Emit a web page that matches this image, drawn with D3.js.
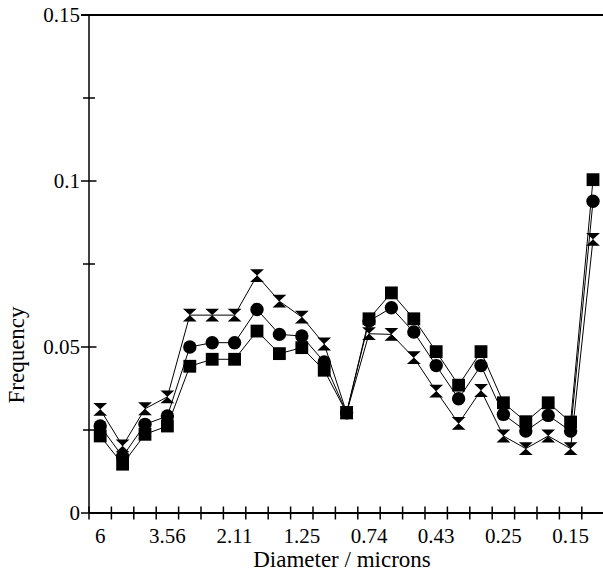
<!DOCTYPE html>
<html>
<head>
<meta charset="utf-8">
<script src="https://cdn.jsdelivr.net/npm/d3@7"></script>
<style>
  body { margin: 0; background: #fff; }
</style>
</head>
<body>
<div id="main"></div>
<script>
const cte = {
    w: 603,
    h: 575,
    markerSize: 6.4,
    font: "'Liberation Serif', 'Times New Roman', serif"
};

// one label per diameter bin (microns), blank = unlabelled bin
const binLabels = ["6", "", "", "3.56", "", "", "2.11", "", "", "1.25", "", "",
                   "0.74", "", "", "0.43", "", "", "0.25", "", "", "0.15", ""];

// frequencies per diameter bin
const squareSeries = [0.0232, 0.0147, 0.0237, 0.0262, 0.0442, 0.0463, 0.0463, 0.0548, 0.0480, 0.0498, 0.0430, 0.0302,
                      0.0585, 0.0663, 0.0585, 0.0486, 0.0385, 0.0486, 0.0332, 0.0275, 0.0332, 0.0274, 0.1004];
const circleSeries = [0.0262, 0.0170, 0.0267, 0.0292, 0.0500, 0.0513, 0.0513, 0.0613, 0.0538, 0.0533, 0.0455, 0.0302,
                      0.0578, 0.0618, 0.0545, 0.0444, 0.0344, 0.0444, 0.0297, 0.0247, 0.0294, 0.0247, 0.0939];
const hourglassSeries = [0.0312, 0.0202, 0.0314, 0.0350, 0.0596, 0.0596, 0.0596, 0.0715, 0.0638, 0.0590, 0.0509, 0.0302,
                         0.0540, 0.0538, 0.0468, 0.0367, 0.0270, 0.0369, 0.0232, 0.0194, 0.0232, 0.0194, 0.0824];

const yMajorTicks = [0, 0.05, 0.1, 0.15];
const yMinorTicks = [0.025, 0.075, 0.125];
const yTickLabels = ["0", "0.05", "0.1", "0.15"];

const margin = { top: 15, right: 0, bottom: 62, left: 89 };

let svg = d3.select("#main").append("svg")
    .attr("width", cte.w)
    .attr("height", cte.h)
    .style("font-family", cte.font);

let xScale = d3.scaleBand()
    .domain(binLabels.map((d, i) => i))
    .range([margin.left, margin.left + binLabels.length * 22.4])
    .padding(0);

let yScale = d3.scaleLinear()
    .domain([0, 0.15])
    .range([cte.h - margin.bottom, margin.top]);

const x0 = margin.left, y0 = yScale(0);
const cx = i => xScale(i) + xScale.bandwidth() / 2;

// x axis: ticks at bin edges, labels in the middle of the bin
let xAxis = svg.append("g").attr("class", "x-axis");
xAxis.append("line")
    .attr("x1", x0).attr("x2", cte.w)
    .attr("y1", y0).attr("y2", y0)
    .attr("stroke", "#000").attr("stroke-width", 2);
xAxis.selectAll(".xtick")
    .data(xScale.domain())
    .enter().append("line")
    .attr("class", "xtick")
    .attr("x1", d => xScale(d)).attr("x2", d => xScale(d))
    .attr("y1", y0 - 6.5).attr("y2", y0 + 6.5)
    .attr("stroke", "#000").attr("stroke-width", 1.5);
xAxis.selectAll(".xlabel")
    .data(binLabels.map((t, i) => ({ t, i })).filter(d => d.t !== ""))
    .enter().append("text")
    .attr("class", "xlabel")
    .attr("x", d => cx(d.i))
    .attr("y", 543)
    .attr("text-anchor", "middle")
    .style("font-family", cte.font)
    .style("font-size", "21px")
    .text(d => d.t);

svg.append("text")
    .attr("x", 342)
    .attr("y", 567)
    .attr("text-anchor", "middle")
    .style("font-family", cte.font)
    .style("font-size", "23px")
    .text("Diameter / microns");

// y axis
let yAxis = svg.append("g").attr("class", "y-axis");
yAxis.append("line")
    .attr("x1", x0).attr("x2", x0)
    .attr("y1", yScale(0.15)).attr("y2", y0)
    .attr("stroke", "#000").attr("stroke-width", 1.5);
yAxis.selectAll(".ymajor")
    .data(yMajorTicks)
    .enter().append("line")
    .attr("x1", x0 - 8).attr("x2", d => d === 0.15 ? cte.w : x0 + 7.5)
    .attr("y1", d => yScale(d)).attr("y2", d => yScale(d))
    .attr("stroke", "#000").attr("stroke-width", d => d === 0.15 ? 2 : 1.5);
yAxis.selectAll(".yminor")
    .data(yMinorTicks)
    .enter().append("line")
    .attr("x1", x0 - 6).attr("x2", x0 + 6)
    .attr("y1", d => yScale(d)).attr("y2", d => yScale(d))
    .attr("stroke", "#000").attr("stroke-width", 1.5);
yAxis.selectAll(".ylabel")
    .data(yMajorTicks)
    .enter().append("text")
    .attr("x", 80)
    .attr("y", d => yScale(d))
    .attr("dy", "0.35em")
    .attr("text-anchor", "end")
    .style("font-family", cte.font)
    .style("font-size", "21px")
    .text((d, i) => yTickLabels[i]);

svg.append("text")
    .attr("transform", "translate(24, 355) rotate(-90)")
    .attr("text-anchor", "middle")
    .style("font-family", cte.font)
    .style("font-size", "23px")
    .text("Frequency");

// series: thin black lines, then markers (square drawn last, on top)
const lineGenerator = d3.line()
    .x((d, i) => cx(i))
    .y(d => yScale(d));

const s = cte.markerSize;
const hourglassPath = `M${-s - 0.5},${-s} L${s + 0.5},${-s} L${-s - 0.5},${s} L${s + 0.5},${s} Z`;

const series = [
    { name: "hourglass", values: hourglassSeries },
    { name: "circle", values: circleSeries },
    { name: "square", values: squareSeries }
];

series.forEach(sr => {
    svg.append("path")
        .datum(sr.values)
        .attr("d", lineGenerator)
        .attr("fill", "none")
        .attr("stroke", "#000")
        .attr("stroke-width", 1);
});

series.forEach(sr => {
    let g = svg.append("g").attr("class", "markers-" + sr.name);
    let pts = g.selectAll("g")
        .data(sr.values)
        .enter().append("g")
        .attr("transform", (d, i) => `translate(${cx(i)},${yScale(d)})`);
    if (sr.name === "square") {
        pts.append("rect")
            .attr("x", -s).attr("y", -s)
            .attr("width", 2 * s).attr("height", 2 * s)
            .attr("fill", "#000");
    } else if (sr.name === "circle") {
        pts.append("circle")
            .attr("r", s + 0.3)
            .attr("fill", "#000");
    } else {
        pts.append("path")
            .attr("d", hourglassPath)
            .attr("fill", "#000");
    }
});
</script>
</body>
</html>
